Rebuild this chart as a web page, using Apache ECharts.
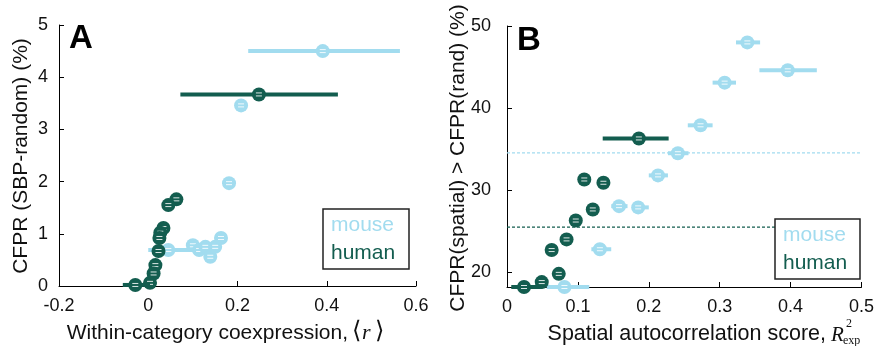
<!DOCTYPE html>
<html>
<head>
<meta charset="utf-8">
<script src="https://cdn.jsdelivr.net/npm/echarts@6/dist/echarts.min.js"></script>
<style>
  html, body { margin: 0; padding: 0; background: #fff; }
  #chart { width: 877px; height: 346px; }
</style>
</head>
<body>
<div id="chart"></div>
<script>
// ---------- DATA ----------
// Panel A: [x, y, xLow, xHigh]
var mouseA = [
  [0.391, 4.50, 0.224, 0.564],
  [0.208, 3.46, 0.208, 0.208],
  [0.181, 1.97, 0.181, 0.181],
  [0.045, 0.69, 0.000, 0.120],
  [0.100, 0.78, 0.100, 0.100],
  [0.114, 0.69, 0.114, 0.114],
  [0.128, 0.75, 0.128, 0.128],
  [0.139, 0.56, 0.139, 0.139],
  [0.150, 0.75, 0.150, 0.150],
  [0.163, 0.92, 0.163, 0.163]
];
var humanA = [
  [0.248, 3.67, 0.072, 0.425],
  [0.063, 1.66, 0.063, 0.063],
  [0.045, 1.55, 0.045, 0.045],
  [0.034, 1.11, 0.034, 0.034],
  [0.027, 1.02, 0.027, 0.027],
  [0.025, 0.92, 0.025, 0.025],
  [0.023, 0.67, 0.023, 0.023],
  [0.016, 0.40, 0.016, 0.016],
  [0.012, 0.24, 0.012, 0.012],
  [0.004, 0.06, 0.004, 0.004],
  [-0.029, 0.02, -0.057, 0.004]
];
// Panel B: [x, y, xLow, xHigh]
var mouseB = [
  [0.081, 18.2, 0.056, 0.116],
  [0.131, 22.8, 0.119, 0.147],
  [0.158, 28.05, 0.147, 0.170],
  [0.185, 27.9, 0.177, 0.200],
  [0.213, 31.8, 0.200, 0.227],
  [0.241, 34.5, 0.227, 0.256],
  [0.273, 37.9, 0.255, 0.290],
  [0.307, 43.1, 0.290, 0.323],
  [0.339, 48.0, 0.323, 0.357],
  [0.396, 44.6, 0.356, 0.437]
];
var humanB = [
  [0.024, 18.2, 0.006, 0.050],
  [0.049, 18.8, 0.049, 0.049],
  [0.073, 19.8, 0.073, 0.073],
  [0.063, 22.7, 0.063, 0.063],
  [0.084, 24.0, 0.084, 0.084],
  [0.097, 26.3, 0.097, 0.097],
  [0.121, 27.65, 0.121, 0.121],
  [0.109, 31.3, 0.109, 0.109],
  [0.136, 30.9, 0.136, 0.136],
  [0.186, 36.3, 0.135, 0.228]
];
var mouseRefB = 34.55;
var humanRefB = 25.5;
var xTicksA = [-0.2, 0, 0.2, 0.4, 0.6];
var yTicksA = [0, 1, 2, 3, 4, 5];
var xTicksB = [0, 0.1, 0.2, 0.3, 0.4, 0.5];
var yTicksB = [20, 30, 40, 50];

// ---------- STYLE ----------
var MOUSE = '#a2dcef';
var HUMAN = '#135d4f';
var FONT = '"Liberation Sans", Arial, Helvetica, sans-serif';

function makeRender(color) {
  return function (params, api) {
    var x = api.value(0), y = api.value(1), lo = api.value(2), hi = api.value(3);
    var c = api.coord([x, y]);
    var children = [];
    if (hi - lo > 1e-9) {
      var p1 = api.coord([lo, y]), p2 = api.coord([hi, y]);
      children.push({type: 'line', shape: {x1: p1[0], y1: p1[1], x2: p2[0], y2: p2[1]},
        style: {stroke: color, lineWidth: 4}});
    }
    children.push({type: 'circle', shape: {cx: c[0], cy: c[1], r: 7}, style: {fill: color}});
    children.push({type: 'line', shape: {x1: c[0] - 3, y1: c[1] - 1.5, x2: c[0] + 3, y2: c[1] - 1.5},
      style: {stroke: '#fff', lineWidth: 1, opacity: 0.85}});
    children.push({type: 'line', shape: {x1: c[0] - 3, y1: c[1] + 1.5, x2: c[0] + 3, y2: c[1] + 1.5},
      style: {stroke: '#fff', lineWidth: 1, opacity: 0.85}});
    return {type: 'group', children: children};
  };
}

function axisCommon() {
  return {
    axisLine: {show: true, onZero: false, lineStyle: {color: '#000', width: 1}},
    axisTick: {show: true, inside: true, length: 5, lineStyle: {color: '#000'}},
    splitLine: {show: false},
    axisLabel: {color: '#111', fontSize: 18, fontFamily: FONT}
  };
}

var xA = axisCommon();
Object.assign(xA, {type: 'value', gridIndex: 0, min: xTicksA[0], max: xTicksA[xTicksA.length - 1], interval: 0.2});
xA.axisLabel.margin = 11;
var yA = axisCommon();
Object.assign(yA, {type: 'value', gridIndex: 0, min: yTicksA[0], max: yTicksA[yTicksA.length - 1], interval: 1});
yA.axisLabel.margin = 11;
var xB = axisCommon();
Object.assign(xB, {type: 'value', gridIndex: 1, min: xTicksB[0], max: xTicksB[xTicksB.length - 1], interval: 0.1});
xB.axisLabel.margin = 11;
var yB = axisCommon();
Object.assign(yB, {type: 'value', gridIndex: 1, min: 18.2, max: 50});
yB.axisLabel.margin = 16;
yB.axisLabel.customValues = yTicksB;
yB.axisTick.customValues = yTicksB;

var chart = echarts.init(document.getElementById('chart'), null, {renderer: 'canvas'});
chart.setOption({
  animation: false,
  backgroundColor: '#fff',
  grid: [
    {left: 59, top: 25, width: 357, height: 261},
    {left: 507, top: 26, width: 356, height: 261}
  ],
  xAxis: [xA, xB],
  yAxis: [yA, yB],
  series: [
    {type: 'line', xAxisIndex: 1, yAxisIndex: 1, data: [[xTicksB[0], mouseRefB], [xTicksB[xTicksB.length - 1], mouseRefB]],
      symbol: 'none', lineStyle: {color: MOUSE, width: 1.2, type: [3, 2]}, z: 1},
    {type: 'line', xAxisIndex: 1, yAxisIndex: 1, data: [[xTicksB[0], humanRefB], [xTicksB[xTicksB.length - 1], humanRefB]],
      symbol: 'none', lineStyle: {color: HUMAN, width: 1.2, type: [3, 2]}, z: 1},
    {type: 'custom', xAxisIndex: 0, yAxisIndex: 0, data: mouseA, renderItem: makeRender(MOUSE),
      encode: {x: 0, y: 1}, z: 2},
    {type: 'custom', xAxisIndex: 0, yAxisIndex: 0, data: humanA, renderItem: makeRender(HUMAN),
      encode: {x: 0, y: 1}, z: 3},
    {type: 'custom', xAxisIndex: 1, yAxisIndex: 1, data: mouseB, renderItem: makeRender(MOUSE),
      encode: {x: 0, y: 1}, z: 2},
    {type: 'custom', xAxisIndex: 1, yAxisIndex: 1, data: humanB, renderItem: makeRender(HUMAN),
      encode: {x: 0, y: 1}, z: 3}
  ],
  graphic: [
    // panel labels
    {type: 'text', left: 69, top: 22, z: 10, style: {text: 'A', font: 'bold 33px ' + FONT, fill: '#000'}},
    {type: 'text', left: 517, top: 24, z: 10, style: {text: 'B', font: 'bold 33px ' + FONT, fill: '#000'}},
    // y titles
    {type: 'text', x: 21, y: 156, rotation: Math.PI / 2, z: 10,
      style: {text: 'CFPR (SBP-random) (%)', font: '21px ' + FONT, fill: '#111', align: 'center', verticalAlign: 'middle'}},
    {type: 'text', x: 458, y: 158, rotation: Math.PI / 2, z: 10,
      style: {text: 'CFPR(spatial) > CFPR(rand) (%)', font: '21px ' + FONT, fill: '#111', align: 'center', verticalAlign: 'middle'}},
    // x title A
    {type: 'text', x: 348, y: 333, z: 10,
      style: {text: 'Within-category coexpression,', font: '21px ' + FONT, fill: '#111', align: 'right', verticalAlign: 'middle'}},
    {type: 'text', x: 352, y: 332, z: 10,
      style: {text: '⟨', font: '24px "DejaVu Serif", serif', fill: '#111', align: 'left', verticalAlign: 'middle'}},
    {type: 'text', x: 362, y: 333, z: 10,
      style: {text: 'r', font: 'italic 22px "Liberation Serif", serif', fill: '#111', align: 'left', verticalAlign: 'middle'}},
    {type: 'text', x: 375, y: 332, z: 10,
      style: {text: '⟩', font: '24px "DejaVu Serif", serif', fill: '#111', align: 'left', verticalAlign: 'middle'}},
    // x title B
    {type: 'text', x: 826, y: 334, z: 10,
      style: {text: 'Spatial autocorrelation score,', font: '21.5px ' + FONT, fill: '#111', align: 'right', verticalAlign: 'middle'}},
    {type: 'text', x: 831, y: 335, z: 10,
      style: {text: 'R', font: 'italic 21px "Liberation Serif", serif', fill: '#111', align: 'left', verticalAlign: 'middle'}},
    {type: 'text', x: 846, y: 324, z: 10,
      style: {text: '2', font: '12px "Liberation Serif", serif', fill: '#111', align: 'left', verticalAlign: 'middle'}},
    {type: 'text', x: 843, y: 341, z: 10,
      style: {text: 'exp', font: '12px "Liberation Serif", serif', fill: '#111', align: 'left', verticalAlign: 'middle'}},
    // legend A
    {type: 'rect', shape: {x: 323, y: 209, width: 86, height: 60}, z: 10,
      style: {fill: '#fff', stroke: '#222', lineWidth: 1.5}},
    {type: 'text', x: 331, y: 225, z: 11,
      style: {text: 'mouse', font: '21px ' + FONT, fill: MOUSE, align: 'left', verticalAlign: 'middle'}},
    {type: 'text', x: 331, y: 253, z: 11,
      style: {text: 'human', font: '21px ' + FONT, fill: HUMAN, align: 'left', verticalAlign: 'middle'}},
    // legend B
    {type: 'rect', shape: {x: 775, y: 219, width: 85, height: 60}, z: 10,
      style: {fill: '#fff', stroke: '#222', lineWidth: 1.5}},
    {type: 'text', x: 783, y: 235, z: 11,
      style: {text: 'mouse', font: '21px ' + FONT, fill: MOUSE, align: 'left', verticalAlign: 'middle'}},
    {type: 'text', x: 783, y: 263, z: 11,
      style: {text: 'human', font: '21px ' + FONT, fill: HUMAN, align: 'left', verticalAlign: 'middle'}}
  ]
});
</script>
</body>
</html>
